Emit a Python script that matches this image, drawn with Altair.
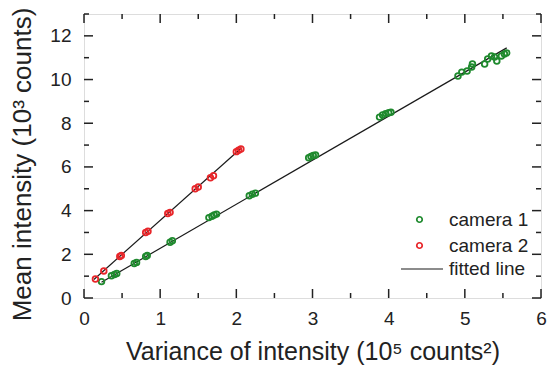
import altair as alt
import pandas as pd

# ---- data ----
cam1_x = [0.23, 0.36, 0.40, 0.43, 0.66, 0.69, 0.81, 0.83, 1.13, 1.16,
          1.64, 1.68, 1.71, 1.74, 2.17, 2.21, 2.25,
          2.95, 2.98, 3.01, 3.04, 3.88, 3.92, 3.96, 4.00, 4.03,
          4.91, 4.96, 5.03, 5.09, 5.10, 5.26, 5.30, 5.35, 5.39, 5.42,
          5.48, 5.52, 5.55]
cam1_y = [0.75, 1.02, 1.08, 1.12, 1.58, 1.63, 1.90, 1.95, 2.55, 2.62,
          3.68, 3.74, 3.80, 3.84, 4.68, 4.75, 4.80,
          6.42, 6.48, 6.52, 6.55, 8.28, 8.38, 8.44, 8.48, 8.50,
          10.16, 10.34, 10.39, 10.57, 10.71, 10.71, 10.94, 11.08, 11.03, 10.85,
          11.08, 11.17, 11.22]

cam2_x = [0.15, 0.26, 0.47, 0.49, 0.81, 0.84, 1.10, 1.13, 1.46, 1.50,
          1.66, 1.70, 2.00, 2.03, 2.06]
cam2_y = [0.87, 1.24, 1.90, 1.95, 3.00, 3.06, 3.87, 3.92, 5.00, 5.08,
          5.50, 5.60, 6.70, 6.76, 6.82]

fit1_x = [0.23, 5.55]
fit1_y = [0.72, 11.45]
fit2_x = [0.13, 2.07]
fit2_y = [0.85, 6.88]

x_major = [0, 1, 2, 3, 4, 5, 6]
x_minor = [0.5, 1.5, 2.5, 3.5, 4.5, 5.5]
y_major = [0, 2, 4, 6, 8, 10, 12]
y_minor = [1, 3, 5, 7, 9, 11, 13]

GREEN = "#1f8a2e"
RED = "#e8262a"
INK = "#222222"
FONT = "Liberation Sans"
W, H = 457, 284

pts = pd.DataFrame({
    "x": cam1_x + cam2_x,
    "y": cam1_y + cam2_y,
    "camera": ["camera 1"] * len(cam1_x) + ["camera 2"] * len(cam2_x),
})
fits = pd.DataFrame({
    "x": fit1_x + fit2_x,
    "y": fit1_y + fit2_y,
    "camera": ["camera 1"] * 2 + ["camera 2"] * 2,
    "fit": ["fitted line"] * 4,
})

xs = alt.Scale(domain=[0, 6], nice=False, zero=False)
ys = alt.Scale(domain=[0, 13], nice=False, zero=False)

x_axis = alt.Axis(values=x_major, format="d", grid=False, domain=False, ticks=False,
                  tickSize=0, labelFontSize=19, labelColor=INK, labelFont=FONT,
                  labelPadding=11, labelFlush=False,
                  title="Variance of intensity (10⁵ counts²)",
                  titleFontSize=25, titleFont=FONT, titleColor=INK,
                  titleFontWeight="normal", titlePadding=11)
y_axis = alt.Axis(values=y_major, format="d", grid=False, domain=False, ticks=False,
                  tickSize=0, labelFontSize=19, labelColor=INK, labelFont=FONT,
                  labelPadding=13, labelFlush=False,
                  title="Mean intensity (10³ counts)",
                  titleFontSize=26, titleFont=FONT, titleColor=INK,
                  titleFontWeight="normal", titlePadding=14, titleY=150)

lines = alt.Chart(fits).mark_line(strokeWidth=1.2).encode(
    x=alt.X("x:Q", scale=xs, axis=x_axis),
    y=alt.Y("y:Q", scale=ys, axis=y_axis),
    detail="camera:N",
    stroke=alt.Stroke("fit:N", scale=alt.Scale(domain=["fitted line"], range=["#1a1a1a"]),
                      legend=alt.Legend(title=None, orient="none", legendX=316, legendY=233,
                                        symbolType="stroke", symbolSize=1764,
                                        symbolStrokeWidth=1.2, labelFontSize=19,
                                        labelFont=FONT, labelColor=INK, labelOffset=5,
                                        padding=0)),
)

points = alt.Chart(pts).mark_point(filled=False, size=32, strokeWidth=1.8, opacity=1).encode(
    x=alt.X("x:Q", scale=xs, axis=x_axis),
    y=alt.Y("y:Q", scale=ys, axis=y_axis),
    color=alt.Color("camera:N",
                    scale=alt.Scale(domain=["camera 1", "camera 2"], range=[GREEN, RED]),
                    legend=alt.Legend(title=None, orient="none", legendX=326, legendY=196,
                                      symbolType="circle", symbolSize=30,
                                      symbolStrokeWidth=1.7, symbolFillColor="white",
                                      labelFontSize=19, labelFont=FONT, labelColor=INK,
                                      labelOffset=20, rowPadding=6, padding=0)),
)


def xticks(vals, y0, y1):
    return alt.Chart(pd.DataFrame({"v": vals})).mark_rule(color=INK, strokeWidth=1.5).encode(
        x=alt.X("v:Q", scale=xs, axis=x_axis), y=alt.value(y0), y2=alt.value(y1))


def yticks(vals, x0, x1):
    return alt.Chart(pd.DataFrame({"v": vals})).mark_rule(color=INK, strokeWidth=1.5).encode(
        y=alt.Y("v:Q", scale=ys, axis=y_axis), x=alt.value(x0), x2=alt.value(x1))


ticks = [
    xticks(x_major, H, H - 9), xticks(x_minor, H, H - 5),
    xticks(x_major, 0, 9), xticks(x_minor, 0, 5),
    yticks(y_major, 0, 9), yticks(y_minor, 0, 5),
    yticks(y_major, W, W - 9), yticks(y_minor, W, W - 5),
]

chart = alt.layer(lines, points, *ticks).properties(
    width=W, height=H,
    autosize=alt.AutoSizeParams(type="none"),
    padding={"left": 76, "top": 6, "right": 6, "bottom": 67},
).configure_view(stroke=INK, strokeWidth=1.5).configure(background="white")

chart.save("out.html", embed_options={"renderer": "svg", "actions": False})
